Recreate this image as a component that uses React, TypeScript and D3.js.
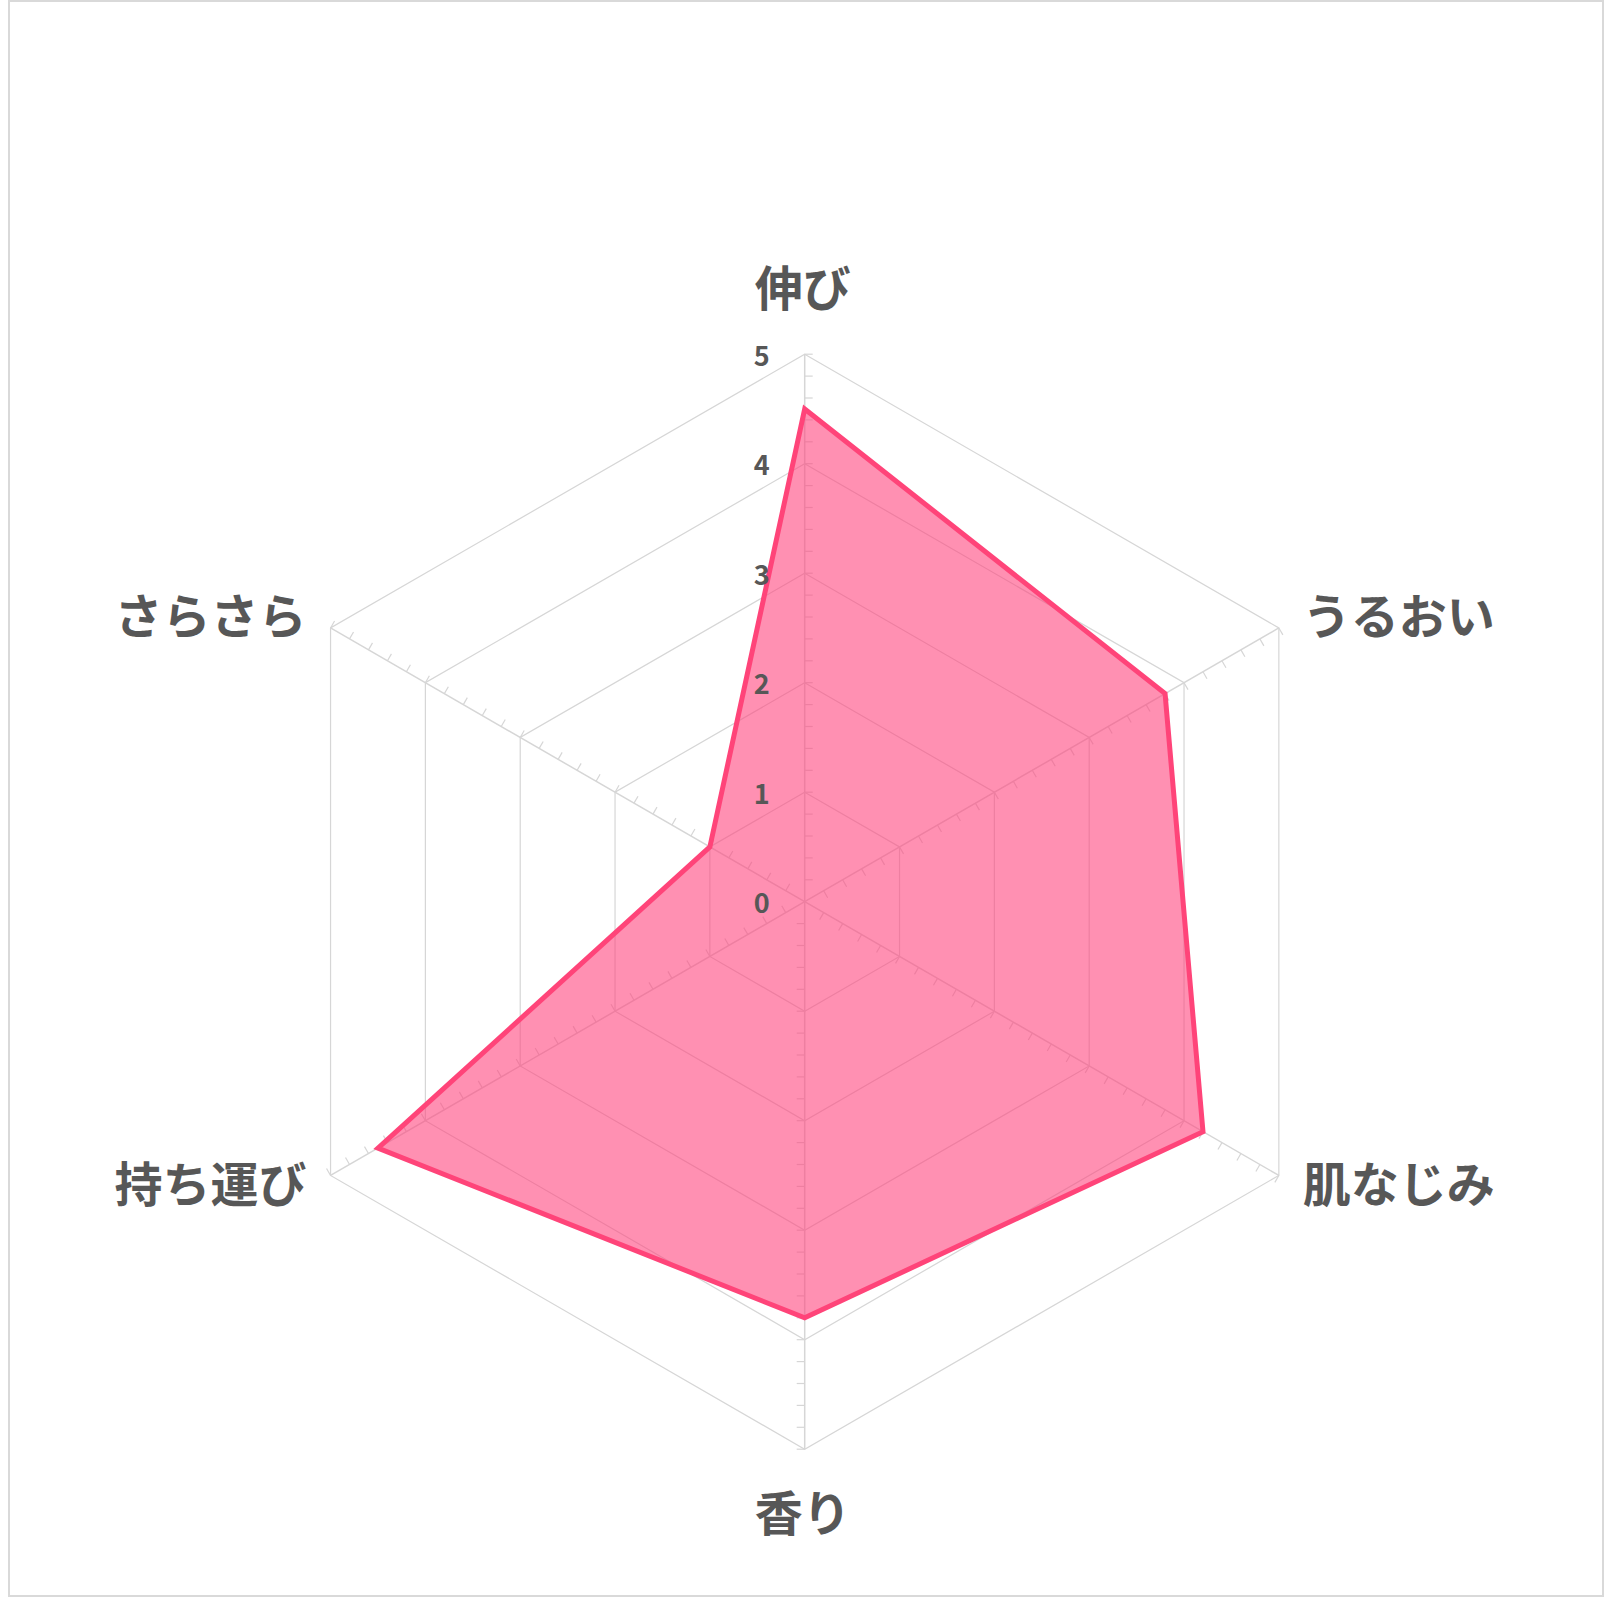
// Externals
import * as d3 from 'd3'
import React, { useEffect, useRef } from 'react'

const categories = ['伸び', 'うるおい', '肌なじみ', '香り', '持ち運び', 'さらさら']
const values = [4.5, 3.8, 4.2, 3.8, 4.5, 1.0]
const tickLabels = [0, 1, 2, 3, 4, 5]

const RadarChart = () => {
  const svgRef = useRef<any>(null)

  useEffect(() => {
    if (!svgRef.current) return
    d3.select(svgRef.current).selectAll('*').remove()

    const width = 1612
    const height = 1613
    const cx = 804.7
    const cy = 901.7
    const R = 547.5
    const grid = '#d6d6d6'
    const textColor = '#575757'
    const font = '"Noto Sans CJK JP", "Noto Sans", sans-serif'

    const svg = d3.select(svgRef.current)
      .attr('width', width)
      .attr('height', height)

    // Outer frame
    svg.append('rect')
      .attr('x', 9)
      .attr('y', 1)
      .attr('width', 1594)
      .attr('height', 1595)
      .attr('fill', '#fff')
      .attr('stroke', '#d9d9d9')
      .attr('stroke-width', 2)

    const g = svg.append('g').attr('transform', `translate(${cx}, ${cy})`)

    const r = d3.scaleLinear().domain([0, 5]).range([0, R])
    const n = categories.length
    const angle = (i: number) => (i * 2 * Math.PI) / n

    const radial: any = d3.lineRadial()
      .angle((d: any, i) => angle(i))
      .radius((d: any) => r(d))
      .curve(d3.curveLinearClosed)

    // Hexagon grid
    g.selectAll('.grid-ring')
      .data(tickLabels.slice(1))
      .enter()
      .append('path')
      .attr('class', 'grid-ring')
      .attr('d', (t) => radial(categories.map(() => t)))
      .attr('fill', 'none')
      .attr('stroke', grid)
      .attr('stroke-width', 1.2)

    // Spokes
    g.selectAll('.spoke')
      .data(categories)
      .enter()
      .append('line')
      .attr('class', 'spoke')
      .attr('x1', 0)
      .attr('y1', 0)
      .attr('x2', (d, i) => r(5) * Math.sin(angle(i)))
      .attr('y2', (d, i) => -r(5) * Math.cos(angle(i)))
      .attr('stroke', grid)
      .attr('stroke-width', 1.5)

    // Minor ticks every 0.2, on the clockwise side of each spoke
    const minor = d3.range(1, 26).map((k) => k / 5)
    categories.forEach((c, i) => {
      const a = angle(i)
      const ux = Math.sin(a)
      const uy = -Math.cos(a)
      const px = -uy
      const py = ux
      g.selectAll(`.tick-${i}`)
        .data(minor)
        .enter()
        .append('line')
        .attr('x1', (v) => r(v) * ux)
        .attr('y1', (v) => r(v) * uy)
        .attr('x2', (v) => r(v) * ux + px * 8)
        .attr('y2', (v) => r(v) * uy + py * 8)
        .attr('stroke', grid)
        .attr('stroke-width', 1.2)
    })

    // Data area
    g.append('path')
      .attr('d', radial(values))
      .attr('fill', 'rgba(255, 64, 122, 0.58)')
      .attr('stroke', '#ff4479')
      .attr('stroke-width', 5)
      .attr('stroke-linejoin', 'miter')

    // Scale numbers
    g.selectAll('.scale-text')
      .data(tickLabels)
      .enter()
      .append('text')
      .attr('class', 'scale-text')
      .attr('x', -35)
      .attr('y', (d) => -r(d))
      .attr('text-anchor', 'end')
      .attr('dominant-baseline', 'central')
      .attr('font-family', font)
      .attr('font-weight', 'bold')
      .attr('font-size', '27px')
      .attr('fill', textColor)
      .text((d) => d)

    // Category labels
    g.selectAll('.cat-label')
      .data(categories)
      .enter()
      .append('text')
      .attr('class', 'cat-label')
      .attr('x', (d, i) => {
        const s = Math.sin(angle(i))
        if (Math.abs(s) < 0.01) return -2
        return R * s + (s > 0 ? 24 : -24)
      })
      .attr('y', (d, i) => {
        const c = Math.cos(angle(i))
        if (Math.abs(c) > 0.99) return c > 0 ? -(R + 69) : R + 61
        return -R * c + (c > 0 ? -15 : 6)
      })
      .attr('text-anchor', (d, i) => {
        const s = Math.sin(angle(i))
        if (Math.abs(s) < 0.01) return 'middle'
        return s > 0 ? 'start' : 'end'
      })
      .attr('dominant-baseline', 'central')
      .attr('font-family', font)
      .attr('font-weight', 'bold')
      .attr('font-size', '48px')
      .attr('fill', textColor)
      .text((d) => d)
  }, [])

  return (
    <svg ref={svgRef} style={{ position: 'absolute', left: 0, top: 0 }}></svg>
  )
}

export default function App() {
  return <RadarChart />
}
